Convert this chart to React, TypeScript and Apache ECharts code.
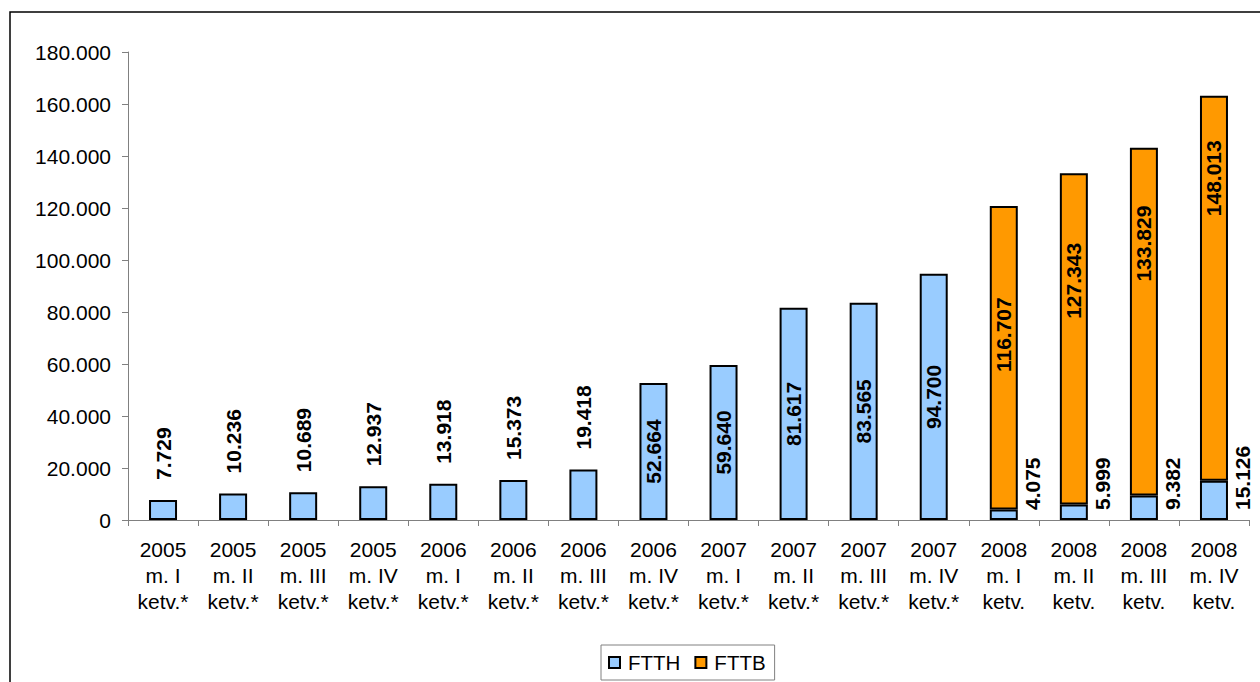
import React, { useEffect, useRef } from 'react';
import * as echarts from 'echarts';

const categories = [
  '2005\nm. I\nketv.*', '2005\nm. II\nketv.*', '2005\nm. III\nketv.*', '2005\nm. IV\nketv.*',
  '2006\nm. I\nketv.*', '2006\nm. II\nketv.*', '2006\nm. III\nketv.*', '2006\nm. IV\nketv.*',
  '2007\nm. I\nketv.*', '2007\nm. II\nketv.*', '2007\nm. III\nketv.*', '2007\nm. IV\nketv.*',
  '2008\nm. I\nketv.', '2008\nm. II\nketv.', '2008\nm. III\nketv.', '2008\nm. IV\nketv.',
];

const ftthValues = [7729, 10236, 10689, 12937, 13918, 15373, 19418, 52664, 59640, 81617, 83565, 94700, 4075, 5999, 9382, 15126];
const fttbValues: (number | null)[] = [null, null, null, null, null, null, null, null, null, null, null, null, 116707, 127343, 133829, 148013];

const seriesNames = ['FTTH', 'FTTB'];
const yMin = 0;
const yMax = 180000;
const yInterval = 20000;

const fmt = (v: number) => String(v).replace(/\B(?=(\d{3})+(?!\d))/g, '.');

const FONT = '"Liberation Sans", Arial, sans-serif';

export default function App() {
  const ref = useRef<HTMLDivElement>(null);

  useEffect(() => {
    if (!ref.current) return;
    const chart = echarts.init(ref.current, undefined, { renderer: 'svg' });

    const ftthData = ftthValues.map((v, i) => {
      const stacked = fttbValues[i] != null;
      let label: any;
      if (stacked) {
        label = { position: ['100%', '100%'], offset: [10, 15], align: 'left', verticalAlign: 'middle' };
      } else if (v < 30000) {
        label = { position: 'top', distance: 20, align: 'left', verticalAlign: 'middle' };
      } else {
        label = { position: 'inside', align: 'center', verticalAlign: 'middle' };
      }
      return { value: v, label };
    });

    // upward shift (px) of the FTTB value labels, as placed in the original
    const fttbLabelShift = [0, 0, 0, 0, 0, 0, 0, 0, 0, 0, 0, 0, 23, 58, 78, 110];
    const fttbData = fttbValues.map((v, i) =>
      v == null
        ? '-'
        : { value: v, label: { position: 'inside', align: 'center', verticalAlign: 'middle', offset: [fttbLabelShift[i], 0] } }
    );

    const labelBase = {
      show: true,
      rotate: 90,
      fontSize: 21,
      fontWeight: 'bold',
      color: '#000',
      fontFamily: FONT,
      formatter: (p: any) => fmt(p.value),
    };

    chart.setOption({
      animation: false,
      backgroundColor: '#fff',
      textStyle: { fontFamily: FONT },
      graphic: [
        {
          type: 'rect',
          silent: true,
          z: -1,
          shape: { x: 10, y: 12, width: 1300, height: 720 },
          style: { fill: 'none', stroke: '#000', lineWidth: 1.5 },
        },
      ],
      grid: { left: 128, right: 11, top: 52, bottom: 162, containLabel: false },
      legend: {
        data: seriesNames,
        left: 601,
        top: 645,
        orient: 'horizontal',
        padding: [7, 9, 7, 7],
        itemWidth: 11,
        itemHeight: 11,
        itemGap: 14,
        borderColor: '#808080',
        borderWidth: 1,
        icon: 'rect',
        textStyle: { fontSize: 20.5, color: '#000', fontFamily: FONT, padding: [0, 0, 0, 3] },
      },
      xAxis: {
        type: 'category',
        data: categories,
        boundaryGap: true,
        axisLine: { show: true, lineStyle: { color: '#808080', width: 1 } },
        axisTick: { show: true, length: 6, alignWithLabel: false, lineStyle: { color: '#808080' } },
        axisLabel: {
          interval: 0,
          fontSize: 21,
          lineHeight: 26,
          color: '#000',
          margin: 16,
          fontFamily: FONT,
        },
        splitLine: { show: false },
      },
      yAxis: {
        type: 'value',
        min: yMin,
        max: yMax,
        interval: yInterval,
        axisLine: { show: true, lineStyle: { color: '#808080', width: 1 } },
        axisTick: { show: true, length: 6, lineStyle: { color: '#808080' } },
        axisLabel: {
          fontSize: 21,
          color: '#000',
          margin: 17,
          fontFamily: FONT,
          formatter: (v: number) => fmt(v),
        },
        splitLine: { show: false },
      },
      series: [
        {
          name: seriesNames[0],
          type: 'bar',
          stack: 'total',
          barWidth: 28,
          itemStyle: { color: '#99CCFF', borderColor: '#000', borderWidth: 2 },
          label: labelBase,
          data: ftthData,
        },
        {
          name: seriesNames[1],
          type: 'bar',
          stack: 'total',
          barWidth: 28,
          itemStyle: { color: '#FF9900', borderColor: '#000', borderWidth: 2 },
          label: labelBase,
          data: fttbData,
        },
      ],
    });

    return () => chart.dispose();
  }, []);

  return (
    <div
      ref={ref}
      style={{ position: 'fixed', left: 0, top: 0, width: 1260, height: 682, background: '#fff' }}
    />
  );
}
